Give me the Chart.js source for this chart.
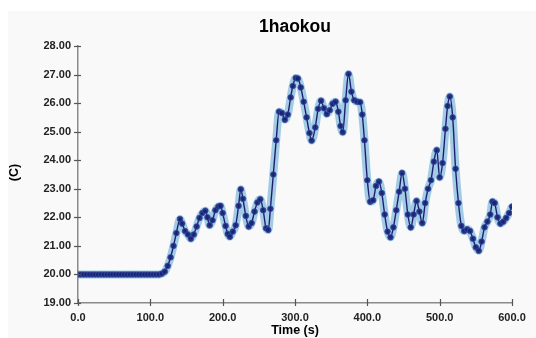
<!DOCTYPE html>
<html lang="en">
<head>
    <meta charset="UTF-8">
    <title>1haokou</title>
    <script src="https://cdn.jsdelivr.net/npm/chart.js"></script>
    <style>
        html, body { margin: 0; padding: 0; background: #ffffff; }
        #wrap { width: 536px; height: 338px; }
    </style>
</head>
<body>
    <div id="wrap"><canvas id="tempChart" width="536" height="338"></canvas></div>
<script>
// time stamps (s)
const times = [
    0, 4, 8, 12, 16, 20, 24, 28, 32, 36, 40, 44, 48, 52, 56, 60, 64, 68, 72, 76,
    80, 84, 88, 92, 96, 100, 104, 108, 112, 116, 120, 124, 128, 132, 136, 141, 144, 148, 152, 156,
    160, 164, 168, 172, 176, 179, 182, 186, 190, 194, 197, 200, 204, 207, 210, 214, 218, 222, 225, 228,
    232, 236, 240, 244, 248, 252, 256, 260, 263, 266, 270, 274, 278, 282, 286, 290, 294, 297, 301, 304,
    308, 312, 316, 320, 323, 328, 332, 336, 340, 344, 348, 352, 356, 360, 363, 366, 370, 374, 378, 382,
    386, 390, 393, 396, 400, 404, 408, 412, 416, 420, 424, 428, 432, 436, 440, 444, 448, 452, 456, 460,
    464, 468, 472, 476, 480, 484, 488, 492, 496, 500, 504, 508, 511, 514, 518, 522, 526, 530, 534, 538,
    542, 546, 550, 554, 558, 562, 566, 570, 573, 576, 580, 584, 588, 592, 596, 600
];
// temperature (C)
const temps = [
    20.00, 20.00, 20.00, 20.00, 20.00, 20.00, 20.00, 20.00, 20.00, 20.00, 20.00, 20.00, 20.00, 20.00, 20.00, 20.00, 20.00, 20.00, 20.00, 20.00,
    20.00, 20.00, 20.00, 20.00, 20.00, 20.00, 20.00, 20.00, 20.00, 20.03, 20.10, 20.30, 20.60, 21.00, 21.45, 21.94, 21.78, 21.52, 21.40, 21.25,
    21.40, 21.68, 21.98, 22.15, 22.23, 22.00, 21.72, 21.90, 22.25, 22.38, 22.40, 22.15, 21.70, 21.42, 21.32, 21.50, 21.72, 22.40, 22.98, 22.65,
    22.05, 21.68, 21.80, 22.20, 22.52, 22.63, 22.25, 21.62, 21.56, 22.30, 23.50, 24.70, 25.70, 25.65, 25.42, 25.60, 26.20, 26.60, 26.88, 26.86,
    26.55, 26.05, 25.50, 24.95, 24.69, 25.15, 25.80, 26.08, 25.82, 25.62, 25.75, 25.98, 26.05, 25.70, 25.20, 24.98, 26.10, 27.02, 26.40, 26.10,
    26.05, 26.03, 25.60, 24.70, 23.30, 22.55, 22.60, 23.10, 23.25, 22.85, 22.10, 21.50, 21.30, 21.65, 22.25, 22.90, 23.55, 23.00, 22.10, 21.65,
    22.10, 22.57, 22.20, 21.80, 22.50, 23.00, 23.30, 23.95, 24.35, 23.40, 23.90, 25.10, 25.90, 26.23, 25.50, 23.70, 22.50, 21.70, 21.52, 21.58,
    21.52, 21.25, 20.95, 20.83, 21.15, 21.65, 21.85, 22.10, 22.55, 22.50, 22.00, 21.78, 21.85, 21.98, 22.15, 22.38
];
const xTicks = [0, 100, 200, 300, 400, 500, 600];
const yTicks = [19, 20, 21, 22, 23, 24, 25, 26, 27, 28];

const chartTitle = '1haokou';
const xTitle = 'Time (s)';
const yTitle = '(C)';

const points = times.map((t, i) => ({ x: t, y: temps[i] }));

// background panel, crossing tick marks and titles
const decor = {
    id: 'decor',
    beforeDraw(chart) {
        const c = chart.ctx;
        c.save();
        c.fillStyle = '#f9f9f9';
        c.fillRect(8, 11, 528, 327);
        c.restore();
    },
    afterDraw(chart) {
        const c = chart.ctx;
        const a = chart.chartArea;
        const xs = chart.scales.x, ys = chart.scales.y;
        c.save();
        c.strokeStyle = '#555';
        c.lineWidth = 1.2;
        yTicks.forEach(v => {
            const py = Math.round(ys.getPixelForValue(v)) + 0.5;
            c.beginPath(); c.moveTo(a.left - 4, py); c.lineTo(a.left + 3, py); c.stroke();
        });
        xTicks.forEach(v => {
            const px = Math.round(xs.getPixelForValue(v)) + 0.5;
            c.beginPath(); c.moveTo(px, a.bottom - 4); c.lineTo(px, a.bottom + 3); c.stroke();
        });
        c.fillStyle = '#000';
        c.textAlign = 'center';
        c.textBaseline = 'middle';
        const cx = (a.left + a.right) / 2;
        c.font = 'bold 17.5px "Liberation Sans", Arial, sans-serif';
        c.fillText(chartTitle, cx, 27);
        c.font = 'bold 12.5px "Liberation Sans", Arial, sans-serif';
        c.fillText(xTitle, cx, 331);
        c.translate(15, (a.top + a.bottom) / 2 - 2);
        c.rotate(-Math.PI / 2);
        c.fillText(yTitle, 0, 0);
        c.restore();
    }
};

const ctx = document.getElementById('tempChart').getContext('2d');
new Chart(ctx, {
    type: 'line',
    data: {
        datasets: [{
            // dark line with markers, drawn on top
            data: points,
            borderColor: '#1a2070',
            borderWidth: 1.4,
            pointRadius: 2.8,
            pointBorderWidth: 1,
            pointBackgroundColor: 'rgba(28,30,115,0.9)',
            pointBorderColor: 'rgba(45,80,160,0.85)',
            cubicInterpolationMode: 'monotone'
        }, {
            // light blue halo underneath
            data: points,
            borderColor: 'rgba(95,165,215,0.55)',
            borderWidth: 8,
            pointRadius: 0,
            cubicInterpolationMode: 'monotone'
        }]
    },
    options: {
        responsive: false,
        animation: false,
        layout: { padding: { left: 0, right: 24, top: 46, bottom: 0 } },
        plugins: { legend: { display: false }, title: { display: false }, tooltip: { enabled: false } },
        scales: {
            x: {
                type: 'linear',
                min: 0, max: 600,
                afterBuildTicks: s => { s.ticks = xTicks.map(v => ({ value: v })); },
                afterFit: s => { s.height = 35; },
                grid: { display: false, drawTicks: false },
                border: { display: true, color: '#8a8a8a', width: 1.5 },
                ticks: {
                    padding: 8,
                    maxRotation: 0,
                    color: '#222',
                    font: { family: '"Liberation Sans", Arial, sans-serif', size: 11, weight: 'bold' },
                    callback: v => v.toFixed(1)
                }
            },
            y: {
                min: 19, max: 28,
                afterBuildTicks: s => { s.ticks = yTicks.map(v => ({ value: v })); },
                afterFit: s => { s.width = 78; },
                grid: { display: false, drawTicks: false },
                border: { display: true, color: '#8a8a8a', width: 1.5 },
                ticks: {
                    padding: 7,
                    color: '#222',
                    font: { family: '"Liberation Sans", Arial, sans-serif', size: 11, weight: 'bold' },
                    callback: v => v.toFixed(2)
                }
            }
        }
    },
    plugins: [decor]
});
</script>
</body>
</html>
